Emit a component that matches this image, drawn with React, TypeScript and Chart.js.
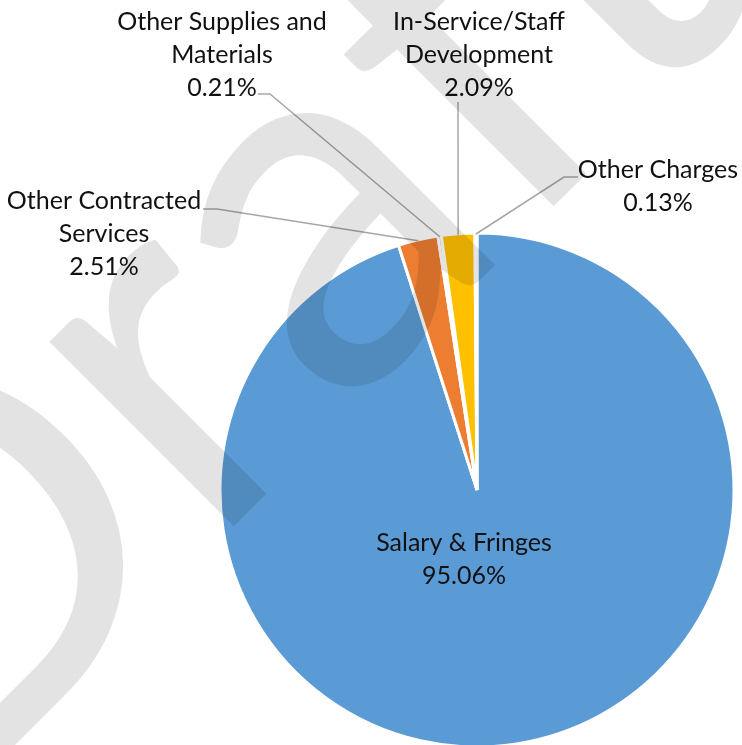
import React, { useEffect, useRef } from "react";
import { Chart, registerables } from "chart.js";

Chart.register(...registerables);

const categories = [
  "Salary & Fringes",
  "Other Contracted Services",
  "Other Supplies and Materials",
  "In-Service/Staff Development",
  "Other Charges",
];
const shares = [95.06, 2.51, 0.21, 2.09, 0.13];
const percentLabels = ["95.06%", "2.51%", "0.21%", "2.09%", "0.13%"];
const labelLines = [
  ["Salary & Fringes"],
  ["Other Contracted", "Services"],
  ["Other Supplies and", "Materials"],
  ["In-Service/Staff", "Development"],
  ["Other Charges"],
];
const sliceColors = ["#5B9BD5", "#ED7D31", "#A5A5A5", "#FFC000", "#4472C4"];

// label layout: text centre x, first line middle y, leader elbow & end (null = inside label)
const labelLayout = [
  { cx: 464, y: 543, elbow: null, end: null },
  { cx: 104, y: 201, elbow: [217, 209], end: [203, 209] },
  { cx: 222, y: 22, elbow: [270, 94], end: [258, 94] },
  { cx: 479, y: 22, elbow: null, end: [458, 102] },
  { cx: 658, y: 170, elbow: [564, 177], end: [578, 177] },
];

const FONT = "Lato, 'Open Sans', sans-serif";
const LINE_H = 33;
const WATERMARK = "Draft";

const labelPlugin = {
  id: "pieLabels",
  afterDatasetsDraw(chart: any) {
    const ctx = chart.ctx;
    const meta = chart.getDatasetMeta(0);
    ctx.save();
    ctx.strokeStyle = "#A6A6A6";
    ctx.lineWidth = 1.5;
    meta.data.forEach((arc: any, i: number) => {
      const lay = labelLayout[i];
      if (!lay.end) return;
      const mid = (arc.startAngle + arc.endAngle) / 2;
      const sx = arc.x + Math.cos(mid) * (arc.outerRadius - 1);
      const sy = arc.y + Math.sin(mid) * (arc.outerRadius - 1);
      ctx.beginPath();
      ctx.moveTo(sx, sy);
      if (lay.elbow) ctx.lineTo(lay.elbow[0], lay.elbow[1]);
      ctx.lineTo(lay.end[0], lay.end[1]);
      ctx.stroke();
    });
    ctx.fillStyle = "#111111";
    ctx.font = `25px ${FONT}`;
    ctx.textAlign = "center";
    ctx.textBaseline = "middle";
    meta.data.forEach((_arc: any, i: number) => {
      const lay = labelLayout[i];
      const lines = [...labelLines[i], percentLabels[i]];
      lines.forEach((t, k) => ctx.fillText(t, lay.cx, lay.y + k * LINE_H));
    });
    ctx.restore();
  },
};

const watermarkPlugin = {
  id: "watermark",
  afterDraw(chart: any) {
    const ctx = chart.ctx;
    const size = 515;
    ctx.save();
    ctx.font = `${size}px ${FONT}`;
    const dW = ctx.measureText("D").width;
    const rStem = dW + 0.11 * size;
    const ax = 252, ay = 508;
    const c = Math.SQRT1_2;
    ctx.translate(ax - rStem * c, ay + rStem * c);
    ctx.rotate(-Math.PI / 4);
    ctx.fillStyle = "rgba(0,0,0,0.11)";
    ctx.textAlign = "left";
    ctx.textBaseline = "alphabetic";
    ctx.fillText(WATERMARK, 0, 0);
    ctx.restore();
  },
};

export default function App() {
  const ref = useRef<HTMLCanvasElement>(null);
  useEffect(() => {
    document.body.style.margin = "0";
    const chart = new Chart(ref.current as HTMLCanvasElement, {
      type: "pie",
      data: {
        labels: categories,
        datasets: [
          {
            data: shares,
            backgroundColor: sliceColors,
            borderColor: "#FFFFFF",
            borderWidth: 3,
          },
        ],
      },
      options: {
        responsive: false,
        animation: false,
        rotation: 0,
        radius: 257,
        layout: { padding: { left: 219, right: 7, top: 235, bottom: 0 } },
        plugins: {
          legend: { display: false },
          tooltip: { enabled: false },
          title: { display: false },
        },
      },
      plugins: [labelPlugin, watermarkPlugin],
    });
    return () => chart.destroy();
  }, []);
  return (
    <div style={{ position: "absolute", left: 0, top: 0, width: 742, height: 745, background: "#fff" }}>
      <canvas ref={ref} width={742} height={745} />
    </div>
  );
}
